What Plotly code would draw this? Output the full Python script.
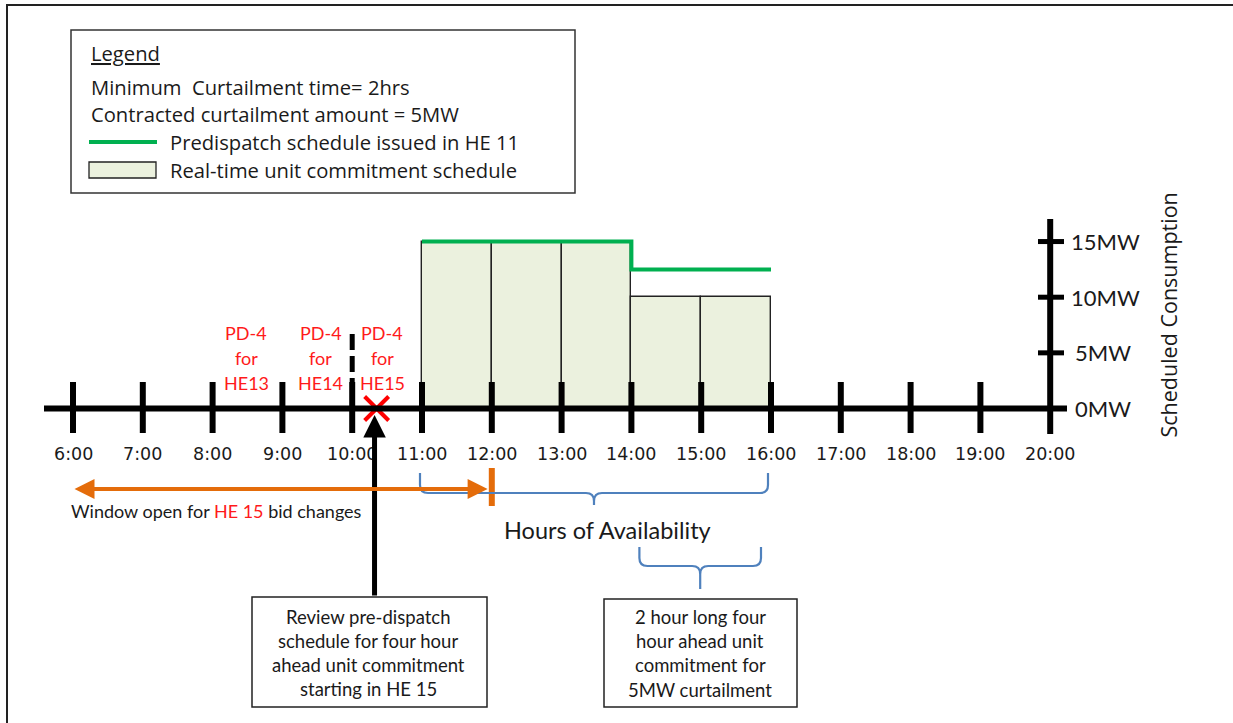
import plotly.graph_objects as go

# ---------------- data ----------------
hours = list(range(6, 21))
hour_labels = [f"{h}:00" for h in hours]
mw_ticks = [0, 5, 10, 15]
mw_labels = ["0MW", "5MW", "10MW", "15MW"]

# real-time unit commitment schedule (hour starting, MW)
rt_start = [11, 12, 13, 14, 15]
rt_mw = [15, 15, 15, 10, 10]

# predispatch schedule issued in HE 11 (step line)
pd_x = [11, 14, 16]
pd_mw = [15, 12.5, 12.5]

review_time = 10.35          # red X on time line
window_end = 12              # end of HE15 bid window
avail_start, avail_end = 11, 16
commit_start, commit_end = 14, 16
pd4_hours = [8.48, 9.55, 10.43]
pd4_labels = ["HE13", "HE14", "HE15"]

W, H = 1233, 723
X0PX, PXH = 73, 69.8        # pixel of 6:00, pixels per hour
Y0PX, PXMW = 408.5, 11.13   # pixel of 0MW, pixels per MW

FONT = "Lato"
FONT_W = "Open Sans"
FONT_T = "DejaVu Sans"
TXT = "#1a1a1a"


def px(x):
    return x / W


def py(y):
    return 1 - y / H


def hx(h):  # hour -> pixel x
    return X0PX + (h - 6) * PXH


fig = go.Figure()

# bars
fig.add_trace(go.Bar(
    x=[s + 0.5 for s in rt_start], y=rt_mw, width=1, base=0,
    marker=dict(color="#EBF1DE", line=dict(color="#222222", width=1.4)),
    hoverinfo="skip", showlegend=False))

# green predispatch line
fig.add_trace(go.Scatter(
    x=pd_x, y=pd_mw, mode="lines", line=dict(color="#00B050", width=4, shape="hv"),
    hoverinfo="skip", showlegend=False))

shapes = []
ann = []

# outer frame
shapes.append(dict(type="line", xref="paper", yref="paper", x0=px(6), x1=px(1233), y0=py(5), y1=py(5),
                   line=dict(color="#222", width=2)))
shapes.append(dict(type="line", xref="paper", yref="paper", x0=px(7), x1=px(7), y0=py(5), y1=py(723),
                   line=dict(color="#222", width=2)))

# main time axis
shapes.append(dict(type="line", xref="paper", yref="y", x0=px(44), x1=px(1067), y0=0, y1=0,
                   line=dict(color="black", width=6), layer="above"))
for h in hours[:-1]:
    shapes.append(dict(type="line", xref="x", yref="paper", x0=h, x1=h, y0=py(382), y1=py(433),
                       line=dict(color="black", width=6), layer="above"))
# dashed extension above 10:00 tick
shapes.append(dict(type="line", xref="x", yref="paper", x0=10, x1=10, y0=py(334), y1=py(382),
                   line=dict(color="black", width=5, dash="16px,6px"), layer="above"))

# vertical MW axis at 20:00
shapes.append(dict(type="line", xref="x", yref="paper", x0=hours[-1], x1=hours[-1], y0=py(219), y1=py(434),
                   line=dict(color="black", width=6), layer="above"))
for m in mw_ticks[1:]:
    shapes.append(dict(type="line", xref="paper", yref="y", x0=px(1038), x1=px(1064), y0=m, y1=m,
                       line=dict(color="black", width=5), layer="above"))
for m, lab in zip(mw_ticks, mw_labels):
    ann.append(dict(xref="paper", yref="y", x=px(1069 if m >= 10 else 1073), y=m, text=lab, showarrow=False,
                    xanchor="left", yanchor="middle", font=dict(family=FONT, size=22, color=TXT)))
ann.append(dict(xref="paper", yref="paper", x=px(1184), y=py(315), text="Scheduled Consumption",
                showarrow=False, textangle=-90, font=dict(family=FONT_W, size=21.5, color=TXT)))

# hour labels
for h, lab in zip(hours, hour_labels):
    ann.append(dict(xref="x", yref="paper", x=h, y=py(454), text=lab, showarrow=False,
                    xanchor="center", yanchor="middle", font=dict(family=FONT_T, size=17.5, color=TXT)))

# PD-4 labels
for h, lab in zip(pd4_hours, pd4_labels):
    for t, yy in zip(["PD-4", "for", lab], [333, 358, 383]):
        ann.append(dict(xref="x", yref="paper", x=h, y=py(yy), text=t, showarrow=False,
                        xanchor="center", yanchor="middle", font=dict(family=FONT, size=18, color="#FF1A1A")))

# legend box
shapes.append(dict(type="rect", xref="paper", yref="paper", x0=px(71), x1=px(575), y0=py(30), y1=py(193),
                   line=dict(color="#333", width=1.5), fillcolor="white"))
leg_lines = [("<u>Legend</u>", 89, 53), ("Minimum  Curtailment time= 2hrs", 89, 87),
             ("Contracted curtailment amount = 5MW", 89, 114),
             ("Predispatch schedule issued in HE 11", 168, 142),
             ("Real-time unit commitment schedule", 168, 170)]
for t, x, y in leg_lines:
    ann.append(dict(xref="paper", yref="paper", x=px(x), y=py(y), text=t, showarrow=False,
                    xanchor="left", yanchor="middle", font=dict(family=FONT_W, size=20.2, color=TXT)))
shapes.append(dict(type="line", xref="paper", yref="paper", x0=px(89), x1=px(157), y0=py(142), y1=py(142),
                   line=dict(color="#00B050", width=4)))
shapes.append(dict(type="rect", xref="paper", yref="paper", x0=px(89), x1=px(156), y0=py(162), y1=py(178),
                   line=dict(color="#222", width=1.3), fillcolor="#EBF1DE"))

# red X
fig.add_trace(go.Scatter(x=[review_time], y=[0], mode="markers",
                         marker=dict(symbol="x-thin", size=24, line=dict(color="#FF0000", width=4)),
                         hoverinfo="skip", showlegend=False))

# black arrow from review box
ann.append(dict(xref="x", yref="paper", x=review_time - 0.03, y=py(415), ax=0, ay=182, axref="pixel", ayref="pixel",
                text="", showarrow=True, arrowhead=2, arrowsize=0.9, arrowwidth=5, arrowcolor="black"))

# review box
shapes.append(dict(type="rect", xref="paper", yref="paper", x0=px(252), x1=px(487), y0=py(597), y1=py(707),
                   line=dict(color="#222", width=1.5), fillcolor="white"))
for t, y in zip(["Review pre-dispatch", "schedule for four hour", "ahead unit commitment", "starting in HE 15"],
                [617, 641, 665, 689]):
    ann.append(dict(xref="paper", yref="paper", x=px(368), y=py(y), text=t, showarrow=False,
                    xanchor="center", yanchor="middle", font=dict(family=FONT, size=18.5, color=TXT)))

# commitment box
shapes.append(dict(type="rect", xref="paper", yref="paper", x0=px(604), x1=px(797), y0=py(599), y1=py(707),
                   line=dict(color="#222", width=1.5), fillcolor="white"))
for t, y in zip(["2 hour long four", "hour ahead unit", "commitment for", "5MW curtailment"],
                [617, 641, 665, 690]):
    ann.append(dict(xref="paper", yref="paper", x=px(700), y=py(y), text=t, showarrow=False,
                    xanchor="center", yanchor="middle", font=dict(family=FONT, size=18.5, color=TXT)))

# orange window arrow (double headed)
ORANGE = "#E46C0A"
ann.append(dict(xref="x", yref="paper", x=window_end - 0.06, y=py(489), ax=hx(6) - hx(window_end - 0.06), ay=0,
                axref="pixel", ayref="pixel", text="", showarrow=True, arrowhead=2, startarrowhead=2,
                arrowside="end+start", arrowsize=1.0, startarrowsize=1.0, arrowwidth=4, arrowcolor=ORANGE))
shapes.append(dict(type="line", xref="x", yref="paper", x0=window_end, x1=window_end, y0=py(468), y1=py(506),
                   line=dict(color=ORANGE, width=6), layer="above"))
ann.append(dict(xref="paper", yref="paper", x=px(69), y=py(511),
                text="Window open for <span style='color:#FF1A1A'>HE 15</span> bid changes", showarrow=False,
                xanchor="left", yanchor="middle", font=dict(family=FONT, size=18, color=TXT)))

# braces
BLUE = "#4F81BD"


def brace(x0, x1, ytop, ymid, ybot, r=8):
    xc = (x0 + x1) / 2

    def P(x, y):
        return f"{px(x):.5f},{py(y):.5f}"
    return ("M " + P(x0, ytop) + " L " + P(x0, ymid - r) + " Q " + P(x0, ymid) + " " + P(x0 + r, ymid) +
            " L " + P(xc - r, ymid) + " Q " + P(xc, ymid) + " " + P(xc, ymid + r) + " L " + P(xc, ybot) +
            " M " + P(xc, ymid + r) + " Q " + P(xc, ymid) + " " + P(xc + r, ymid) +
            " L " + P(x1 - r, ymid) + " Q " + P(x1, ymid) + " " + P(x1, ymid - r) + " L " + P(x1, ytop))


shapes.append(dict(type="path", xref="paper", yref="paper",
                   path=brace(hx(avail_start) - 2, hx(avail_end) - 3, 473, 493, 505),
                   line=dict(color=BLUE, width=2.2)))
shapes.append(dict(type="path", xref="paper", yref="paper",
                   path=brace(hx(commit_start) + 8, hx(commit_end) - 10, 547, 566, 589),
                   line=dict(color=BLUE, width=2.2)))
ann.append(dict(xref="paper", yref="paper", x=px(607), y=py(530), text="Hours of Availability", showarrow=False,
                xanchor="center", yanchor="middle", font=dict(family=FONT, size=23.5, color=TXT)))

fig.update_layout(
    width=W, height=H, margin=dict(l=0, r=0, t=0, b=0),
    paper_bgcolor="white", plot_bgcolor="white",
    xaxis=dict(range=[6 - X0PX / PXH, 6 + (W - X0PX) / PXH], visible=False, fixedrange=True),
    yaxis=dict(range=[-(H - Y0PX) / PXMW, Y0PX / PXMW], visible=False, fixedrange=True),
    shapes=shapes, annotations=ann, showlegend=False, bargap=0,
)
fig.write_html("out.html", config={"displayModeBar": False},
               post_script="document.body.style.margin='0';document.body.style.overflow='hidden';")
